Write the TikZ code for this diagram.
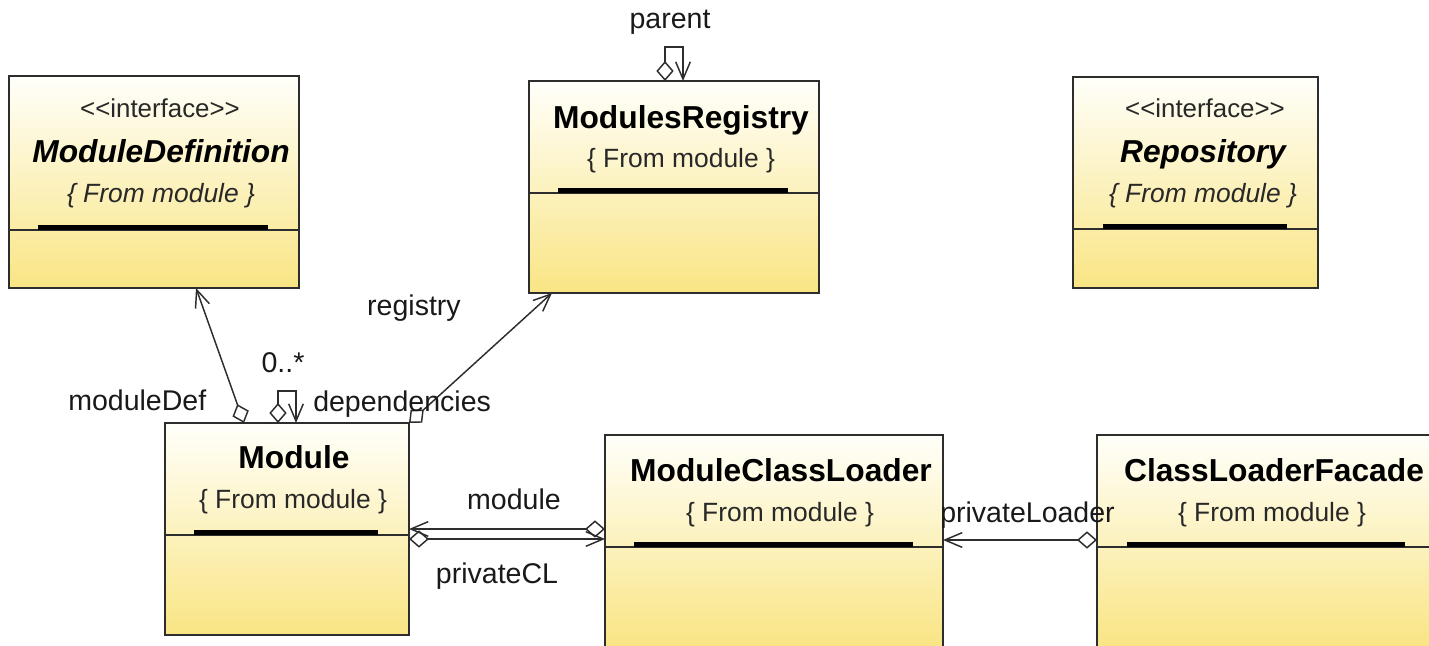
\documentclass[tikz,border=0pt]{standalone}
\usepackage{fontspec}
\newfontfamily\uifont{Liberation Sans}[Ligatures=NoCommon]
\usetikzlibrary{arrows.meta,calc,fit}

\definecolor{boxtop}{RGB}{255,255,250}
\definecolor{boxbot}{RGB}{249,229,132}
\definecolor{edge}{RGB}{45,45,45}
\definecolor{ink}{RGB}{25,25,25}
\definecolor{soft}{RGB}{40,40,40}

% UML class box: name, x1, y1, x2, y2, divider y, bar inset left, bar inset right
\newcommand\umlclass[8]{%
  \shade[top color=boxtop,bottom color=boxbot] (#2,#3) rectangle (#4,#5);
  \draw[boxline] (#2,#3) rectangle (#4,#5);
  \draw[boxline] (#2,#6) -- (#4,#6);
  \fill[black] (#2+#7,#6) rectangle (#4-#8,#6-5);
  \node[fit={(#2,#3) (#4,#5)},inner sep=0pt,outer sep=0pt] (#1) {};
}

\begin{document}
\begin{tikzpicture}[x=0.75pt,y=-0.75pt,
  boxline/.style={draw=edge,line width=1.1pt},
  link/.style={draw=edge,line width=1.1pt},
  agg/.tip={Diamond[open,length=15pt,width=13pt]},
  nav/.tip={Straight Barb[length=13pt,width=11pt]},
  classname/.style={anchor=base,inner sep=0pt,text=black,
    font=\uifont\fontsize{23.8pt}{28pt}\selectfont\bfseries},
  ifacename/.style={classname,
    font=\uifont\fontsize{23.8pt}{28pt}\selectfont\bfseries\itshape},
  origin/.style={anchor=base,inner sep=0pt,text=soft,
    font=\uifont\fontsize{19.8pt}{24pt}\selectfont},
  ifaceorigin/.style={origin,
    font=\uifont\fontsize{19.8pt}{24pt}\selectfont\itshape},
  stereo/.style={anchor=base,inner sep=0pt,text=soft,
    font=\uifont\fontsize{19.4pt}{24pt}\selectfont},
  role/.style={anchor=base,inner sep=0pt,text=ink,
    font=\uifont\fontsize{21.4pt}{26pt}\selectfont},
  roleleft/.style={role,anchor=base west}]

\useasboundingbox (0,0) rectangle (1429,646);
\clip (0,0) rectangle (1429,646);

% class boxes
\umlclass{mdef}{9}{76}{299}{288}{230}{29}{31}
\umlclass{reg}{529}{81}{819}{293}{193}{29}{31}
\umlclass{repo}{1073}{77}{1318}{288}{229}{30}{31}
\umlclass{module}{165}{423}{409}{635}{535}{29}{31}
\umlclass{mcl}{605}{435}{943}{647}{547}{29}{30}
\umlclass{clf}{1097}{435}{1436}{647}{547}{30}{31}

% class texts
\node[stereo]      (mdef-st)   at (160,117) {<{}<interface>{}>};
\node[ifacename]   (mdef-nm)   at (161,162) {ModuleDefinition};
\node[ifaceorigin] (mdef-or)   at (161,202) {\{ From module \}};

\node[classname]   (reg-nm)    at (681,128) {ModulesRegistry};
\node[origin]      (reg-or)    at (681,167) {\{ From module \}};

\node[stereo]      (repo-st)   at (1205,117) {<{}<interface>{}>};
\node[ifacename]   (repo-nm)   at (1203,162) {Repository};
\node[ifaceorigin] (repo-or)   at (1203,202) {\{ From module \}};

\node[classname]   (module-nm) at (294,468) {Module};
\node[origin]      (module-or) at (293,508) {\{ From module \}};

\node[classname]   (mcl-nm)    at (781,481) {ModuleClassLoader};
\node[origin]      (mcl-or)    at (780,521) {\{ From module \}};

\node[classname]   (clf-nm)    at (1274,481) {ClassLoaderFacade};
\node[origin]      (clf-or)    at (1272,521) {\{ From module \}};

% associations
\draw[link,nav-agg] ($(mdef.south west)+(187,0)$) -- ($(module.north west)+(79,0)$);
\draw[link,agg-nav] ($(module.north west)+(113,0)$) -- ++(0,-32) -| ($(module.north west)+(131,0)$);
\draw[link,agg-nav] ($(reg.north west)+(136,0)$) -- ++(0,-34) -| ($(reg.north west)+(154,0)$);
\draw[link,agg-nav] (module.north east) -- ($(reg.south west)+(23,0)$);
\draw[link,nav-agg] ($(module.north east)+(0,106)$) -- ($(mcl.north west)+(0,94)$);
\draw[link,agg-nav] ($(module.north east)+(0,116)$) -- ($(mcl.north west)+(0,104)$);
\draw[link,nav-agg] ($(mcl.north east)+(0,105)$) -- ($(clf.north west)+(0,105)$);

% role names and multiplicities
\node[role]     (l-parent)  at (670,28)  {parent};
\node[role]     (l-reg)     at (414,315) {registry};
\node[role]     (l-mult)    at (283,372) {0..*};
\node[roleleft] (l-deps)    at (313,411) {dependencies};
\node[roleleft] (l-mdef)    at (68,410)  {moduleDef};
\node[role]     (l-module)  at (514,509) {module};
\node[role]     (l-pcl)     at (497,583) {privateCL};
\node[roleleft] (l-ploader) at (940,522) {privateLoader};

\end{tikzpicture}
\end{document}
